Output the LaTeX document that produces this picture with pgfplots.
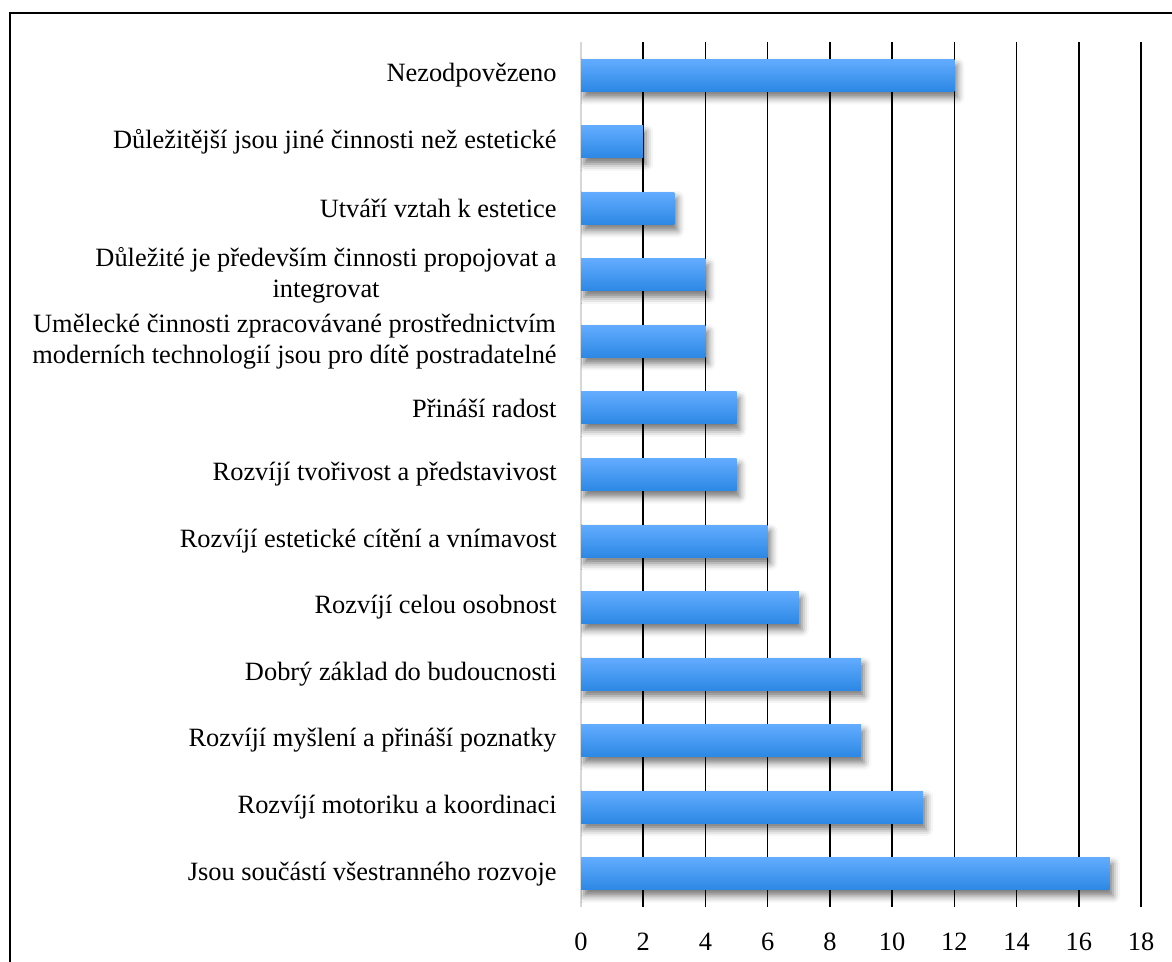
\documentclass[border=0pt]{standalone}
\usepackage{pgfplots}
\pgfplotsset{compat=1.18}
\usepackage{fontspec}
\setmainfont{Liberation Serif}
\usetikzlibrary{shadows.blur}

\definecolor{bartop}{RGB}{98,172,255}
\definecolor{barmid}{RGB}{64,160,255}
\definecolor{barbot}{RGB}{44,136,228}
\definecolor{zeroline}{RGB}{215,215,215}

% each bar is its own plot so that the gradient runs across every bar separately
\pgfplotsset{
  onebar/.style={
    xbar, bar width=16pt, bar shift=0pt, draw=none,
    top color=bartop, middle color=barmid, bottom color=barbot,
    blur shadow={shadow xshift=1.5pt, shadow yshift=-3pt,
                 shadow blur radius=3.5pt, shadow opacity=55},
  },
}

\begin{document}
\begin{tikzpicture}
  % page area and the frame around the chart
  \useasboundingbox (0,0) rectangle (586pt,481pt);
  \draw[line width=0.9pt] (5pt,0pt) -- (5pt,474.5pt) -- (586pt,474.5pt);
  \begin{axis}[
    at={(290.5pt,27.5pt)}, anchor=south west,
    width=280pt, height=432.5pt, scale only axis,
    xmin=0, xmax=18,
    ymin=-0.5, ymax=12.5,
    y dir=reverse,
    xtick={2,4,...,18},
    extra x ticks={0},
    extra x tick style={grid style={draw=zeroline, line width=1pt}},
    ytick={0,...,12},
    yticklabels={
      Nezodpovězeno,
      Důležitější jsou jiné činnosti než estetické,
      Utváří vztah k estetice,
      {Důležité je především činnosti propojovat a\\integrovat},
      {Umělecké činnosti zpracovávané prostřednictvím\\moderních technologií jsou pro dítě postradatelné},
      Přináší radost,
      Rozvíjí tvořivost a představivost,
      Rozvíjí estetické cítění a vnímavost,
      Rozvíjí celou osobnost,
      Dobrý základ do budoucnosti,
      Rozvíjí myšlení a přináší poznatky,
      Rozvíjí motoriku a koordinaci,
      Jsou součástí všestranného rozvoje},
    xmajorgrids,
    grid style={draw=black, line width=0.8pt},
    major tick length=0pt,
    axis line style={draw=none},
    /pgf/number format/assume math mode=true,
    ticklabel style={font=\fontsize{13.2pt}{15.5pt}\selectfont},
    xticklabel style={anchor=north, inner sep=0pt, yshift=-13pt},
    yticklabel style={anchor=east, inner sep=0pt, xshift=-12pt, align=center},
  ]
    \addplot[onebar] coordinates {(12,0)};
    \addplot[onebar] coordinates {(2,1)};
    \addplot[onebar] coordinates {(3,2)};
    \addplot[onebar] coordinates {(4,3)};
    \addplot[onebar] coordinates {(4,4)};
    \addplot[onebar] coordinates {(5,5)};
    \addplot[onebar] coordinates {(5,6)};
    \addplot[onebar] coordinates {(6,7)};
    \addplot[onebar] coordinates {(7,8)};
    \addplot[onebar] coordinates {(9,9)};
    \addplot[onebar] coordinates {(9,10)};
    \addplot[onebar] coordinates {(11,11)};
    \addplot[onebar] coordinates {(17,12)};
  \end{axis}
\end{tikzpicture}
\end{document}
